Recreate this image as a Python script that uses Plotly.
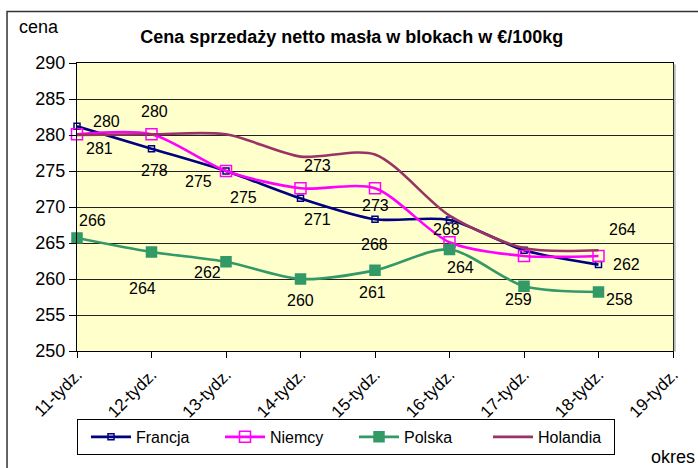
import plotly.graph_objects as go

# ---- data ----
categories = ["11-tydz.", "12-tydz.", "13-tydz.", "14-tydz.", "15-tydz.",
              "16-tydz.", "17-tydz.", "18-tydz.", "19-tydz."]
francja = [281.2, 278.1, 275.0, 271.2, 268.3, 268.2, 264.0, 262.0]
niemcy = [280.1, 280.1, 275.0, 272.6, 272.6, 265.1, 263.2, 263.2]
polska = [265.7, 263.75, 262.4, 260.0, 261.2, 264.1, 259.0, 258.2]
holandia = [280.0, 280.1, 280.1, 277.0, 277.3, 268.8, 264.3, 264.0]

title = "Cena sprzedaży netto masła w blokach w €/100kg"
y_title = "cena"
x_title = "okres"

series = {"Francja": francja, "Niemcy": niemcy, "Polska": polska, "Holandia": holandia}

# which points carry a data label, with pixel offsets (series, index, dx, dy)
label_spec = [
    ("Niemcy", 0, 29, 13), ("Francja", 0, 22, -22),
    ("Niemcy", 1, 3, 23), ("Francja", 1, 3, -22),
    ("Niemcy", 2, -28, -10), ("Francja", 2, 17, -26),
    ("Niemcy", 3, 17, 23), ("Francja", 3, 17, -21),
    ("Niemcy", 4, 0, -17), ("Francja", 4, -1, -25),
    ("Francja", 5, -3, -10), ("Holandia", 7, 24, 21),
    ("Francja", 7, 28, 0), ("Polska", 5, 11, -18),
    ("Polska", 0, 15, 17), ("Polska", 1, -9, -36),
    ("Polska", 2, -19, -11), ("Polska", 3, 0, -21),
    ("Polska", 4, -3, -22), ("Polska", 6, -6, -13),
    ("Polska", 7, 21, -8),
]

FONT = "Arial, Liberation Sans, sans-serif"
styles = {
    "Francja": dict(color="#000080", symbol="square-open", size=6),
    "Niemcy": dict(color="#FF00FF", symbol="square-open", size=11),
    "Polska": dict(color="#339966", symbol="square", size=10),
    "Holandia": dict(color="#993366", symbol=None, size=0),
}

fig = go.Figure()
xs = list(range(len(categories)))
for name, vals in series.items():
    st = styles[name]
    mode = "lines+markers" if st["symbol"] else "lines"
    fig.add_trace(go.Scatter(
        x=xs[:len(vals)], y=vals, name=name, mode=mode,
        line=dict(color=st["color"], width=2.6, shape="spline", smoothing=0.8),
        marker=dict(symbol=st["symbol"] or "circle", size=st["size"],
                    color=st["color"], line=dict(color=st["color"], width=1.5)),
        cliponaxis=False,
    ))

annotations = []
for name, i, dx, dy in label_spec:
    v = series[name][i]
    annotations.append(dict(
        x=i, y=v, xref="x", yref="y", text=f"{round(v)}", showarrow=False,
        xshift=dx, yshift=dy, font=dict(family=FONT, size=16, color="black"),
    ))

annotations.append(dict(text=y_title, xref="paper", yref="paper", x=-0.1, y=1.125,
                        xanchor="left", yanchor="middle", showarrow=False,
                        font=dict(family=FONT, size=18, color="black")))
annotations.append(dict(text=x_title, xref="paper", yref="paper", x=1.04, y=-0.367,
                        xanchor="right", yanchor="middle", showarrow=False,
                        font=dict(family=FONT, size=18, color="black")))

shapes = [
    # outer chart frame (left and top edges visible)
    dict(type="rect", xref="paper", yref="paper", x0=-0.1174, y0=-2, x1=2, y1=1.179,
         line=dict(color="#333333", width=1.5), layer="below"),
    # shadow right of plot area
    dict(type="line", xref="paper", yref="paper", x0=1.003, x1=1.003, y0=-0.002, y1=0.995,
         line=dict(color="#bbbbbb", width=2)),
]

fig.update_layout(
    width=698, height=468,
    margin=dict(l=77, r=25, t=63, b=117),
    paper_bgcolor="white", plot_bgcolor="#FFFFCC",
    font=dict(family=FONT, color="black"),
    title=dict(text=f"<b>{title}</b>", x=0.461, xref="paper", xanchor="center",
               y=1 - 37 / 468, yanchor="middle", yref="container",
               font=dict(family=FONT, size=18, color="black")),
    xaxis=dict(range=[0, len(categories) - 1], tickmode="array", tickvals=xs,
               ticktext=categories, tickangle=-45, ticks="outside", ticklen=6,
               tickcolor="black", showgrid=False, showline=True, linecolor="black",
               linewidth=1, mirror=True, zeroline=False, automargin=False,
               tickfont=dict(family=FONT, size=17)),
    yaxis=dict(range=[250, 290], dtick=5, tick0=250, ticks="outside", ticklen=7,
               tickcolor="black", showgrid=True, gridcolor="#222222", gridwidth=1,
               showline=True, linecolor="black", linewidth=1, mirror=True,
               zeroline=False, automargin=False, tickfont=dict(family=FONT, size=18)),
    legend=dict(orientation="h", x=0, xanchor="left", y=-0.236, yanchor="top",
                bgcolor="white", bordercolor="black", borderwidth=1,
                font=dict(family=FONT, size=16), entrywidth=71, itemwidth=40,
                indentation=8, tracegroupgap=0),
    annotations=annotations, shapes=shapes,
    showlegend=True,
)

fig.write_html("out.html", config={"displayModeBar": False},
               post_script="document.body.style.margin='0';")
